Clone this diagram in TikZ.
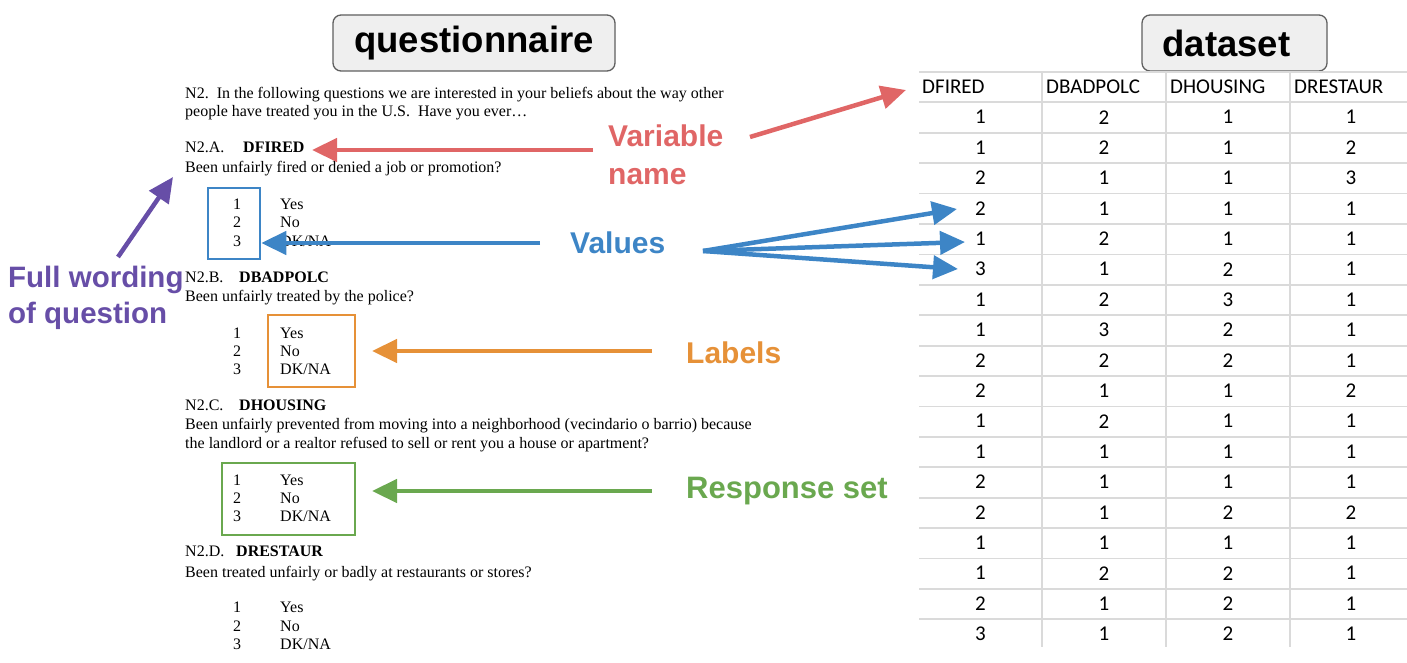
\documentclass[tikz,border=0pt]{standalone}
\usepackage{fontspec}
\setmainfont{Liberation Serif}
\newfontfamily\lsans{Liberation Sans}
\newfontfamily\carl{Carlito}
\usetikzlibrary{arrows.meta}
\definecolor{cred}{HTML}{E06666}
\definecolor{cblue}{HTML}{3D85C6}
\definecolor{corange}{HTML}{E69138}
\definecolor{cgreen}{HTML}{6AA84F}
\definecolor{cpurple}{HTML}{674EA7}
\definecolor{boxfill}{HTML}{EFEFEF}
\definecolor{boxline}{HTML}{5F5F5F}
\definecolor{gridc}{HTML}{DADADA}
\begin{document}
\begin{tikzpicture}[x=1pt,y=-1pt,
  qt/.style={anchor=base west, inner sep=0pt, font=\fontsize{16}{19}\selectfont},
  qb/.style={qt, font=\fontsize{16}{19}\selectfont\bfseries},
  qn/.style={anchor=base, inner sep=0pt, font=\fontsize{16}{19}\selectfont},
  lbl/.style={anchor=base west, inner sep=0pt, align=left, font=\lsans\bfseries\fontsize{30}{38}\selectfont},
  arr/.style={line width=4.5pt, -{Triangle[length=25pt,width=23pt]}},
  titlebox/.style={draw=boxline, fill=boxfill, line width=1.3pt, rounded corners=8pt, inner sep=0pt, font=\lsans\bfseries\fontsize{36.5}{40}\selectfont},
  rbox/.style={line width=2.5pt, inner sep=0pt, minimum height=72pt},
  tline/.style={draw=gridc, line width=1.8pt},
  cell/.style={inner sep=0pt, font=\carl\fontsize{21}{24}\selectfont},
  hcell/.style={cell, anchor=west}
]
\useasboundingbox (0,0) rectangle (1407,663);

% title boxes
\node[titlebox, minimum width=282pt, minimum height=56pt] (qtitle) at (474,43) {questionnaire};
\node[titlebox, minimum width=185pt, minimum height=56pt] (dtitle) at (1234.5,43) {dataset\hspace*{16pt}};

% questionnaire text
\node[qt] (intro1) at (185,99) {N2.\ \ In the following questions we are interested in your beliefs about the way other};
\node[qt] (intro2) at (185,117) {people have treated you in the U.S.\ \ Have you ever\ldots};

\node[qt] (qa) at (185,153) {N2.A.};
\node[qb] (dfired) at (243,153) {DFIRED};
\node[qt] (qatext) at (185,172) {Been unfairly fired or denied a job or promotion?};
\node[qn] (a1) at (237,209) {1};
\node[qn] (a2) at (237,227) {2};
\node[qn] (a3) at (237,246) {3};
\node[qt] (ay) at (280,209) {Yes};
\node[qt] (an) at (280,227) {No};
\node[qt] (ad) at (280,246) {DK/NA};

\node[qt] (qb) at (185,282) {N2.B.};
\node[qb] (dbadpolc) at (239,282) {DBADPOLC};
\node[qt] (qbtext) at (185,301) {Been unfairly treated by the police?};
\node[qn] (b1) at (237,338) {1};
\node[qn] (b2) at (237,356) {2};
\node[qn] (b3) at (237,374) {3};
\node[qt] (by) at (280,338) {Yes};
\node[qt] (bn) at (280,356) {No};
\node[qt] (bd) at (280,374) {DK/NA};

\node[qt] (qc) at (185,410) {N2.C.};
\node[qb] (dhousing) at (239,410) {DHOUSING};
\node[qt] (qctext1) at (185,429) {Been unfairly prevented from moving into a neighborhood (vecindario o barrio) because};
\node[qt] (qctext2) at (185,448) {the landlord or a realtor refused to sell or rent you a house or apartment?};
\node[qn] (c1) at (237,485) {1};
\node[qn] (c2) at (237,503) {2};
\node[qn] (c3) at (237,521) {3};
\node[qt] (cy) at (280,485) {Yes};
\node[qt] (cn) at (280,503) {No};
\node[qt] (cd) at (280,521) {DK/NA};

\node[qt] (qd) at (185,556) {N2.D.};
\node[qb] (drestaur) at (236,556) {DRESTAUR};
\node[qt] (qdtext) at (185,577) {Been treated unfairly or badly at restaurants or stores?};
\node[qn] (d1) at (237,612) {1};
\node[qn] (d2) at (237,631) {2};
\node[qn] (d3) at (237,649) {3};
\node[qt] (dy) at (280,612) {Yes};
\node[qt] (dn) at (280,631) {No};
\node[qt] (dd) at (280,649) {DK/NA};

% highlight boxes
\node[rbox, draw=cblue, minimum width=52pt, minimum height=71pt] (vbox) at (234,223.5) {};
\node[rbox, draw=corange, minimum width=87pt] (lbox) at (311.5,351) {};
\node[rbox, draw=cgreen, minimum width=133pt] (rsbox) at (288.5,499) {};

% table grid
\foreach \i in {0,...,18} \draw[tline] (919,{72+30.4*\i}) -- (1407,{72+30.4*\i});
\foreach \x in {1042,1166,1290} \draw[tline] (\x,72) -- (\x,647);

\node[hcell] (h1) at (922,87) {DFIRED};
\node[hcell] (h2) at (1046,87) {DBADPOLC};
\node[hcell] (h3) at (1170,87) {DHOUSING};
\node[hcell] (h4) at (1294,87) {DRESTAUR};
\foreach \a/\b/\c/\d [count=\r] in {1/2/1/1,1/2/1/2,2/1/1/3,2/1/1/1,1/2/1/1,3/1/2/1,1/2/3/1,1/3/2/1,2/2/2/1,2/1/1/2,1/2/1/1,1/1/1/1,2/1/1/1,2/1/2/2,1/1/1/1,1/2/2/1,2/1/2/1,3/1/2/1}{
  \node[cell] (r\r-1) at (980.5,{117.2+30.4*(\r-1)}) {\a};
  \node[cell] (r\r-2) at (1104,{117.2+30.4*(\r-1)}) {\b};
  \node[cell] (r\r-3) at (1228,{117.2+30.4*(\r-1)}) {\c};
  \node[cell] (r\r-4) at (1351,{117.2+30.4*(\r-1)}) {\d};
}

% annotation labels (base anchor = baseline of the last line)
\node[lbl, text=cred] (varname) at (608,185) {Variable\\name};
\node[lbl, text=cblue] (values) at (570,253) {Values};
\node[lbl, text=corange] (labels) at (686,363) {Labels};
\node[lbl, text=cgreen, font=\lsans\bfseries\fontsize{31}{38}\selectfont] (respset) at (686,498) {Response set};
\node[lbl, text=cpurple, font=\lsans\bfseries\fontsize{29.5}{36}\selectfont] (fullword) at (8,323) {Full wording\\of question};

% arrow end points
\coordinate (redtail1) at (593,150);
\coordinate (redtip1) at (312,150);
\coordinate (redtail2) at (750,137);
\coordinate (redtip2) at (906,90);
\coordinate (bluetail) at (540,243);
\coordinate (fantail) at (703,251);
\coordinate (fan1) at (957,209);
\coordinate (fan2) at (965,242);
\coordinate (fan3) at (958,269);
\coordinate (orangetail) at (652,351);
\coordinate (orangetip) at (372,351);
\coordinate (greentail) at (652,491);
\coordinate (greentip) at (372,491);
\coordinate (purpletail) at (118,257);
\coordinate (purpletip) at (173,177);

% arrows
\draw[arr, cred] (redtail1) -- (redtip1);
\draw[arr, cred] (redtail2) -- (redtip2);
\draw[arr, cblue] (bluetail) -- (vbox.east |- bluetail);
\draw[arr, cblue] (fantail) -- (fan1);
\draw[arr, cblue] (fantail) -- (fan2);
\draw[arr, cblue] (fantail) -- (fan3);
\draw[arr, corange] (orangetail) -- (orangetip);
\draw[arr, cgreen] (greentail) -- (greentip);
\draw[arr, cpurple] (purpletail) -- (purpletip);
\end{tikzpicture}
\end{document}
